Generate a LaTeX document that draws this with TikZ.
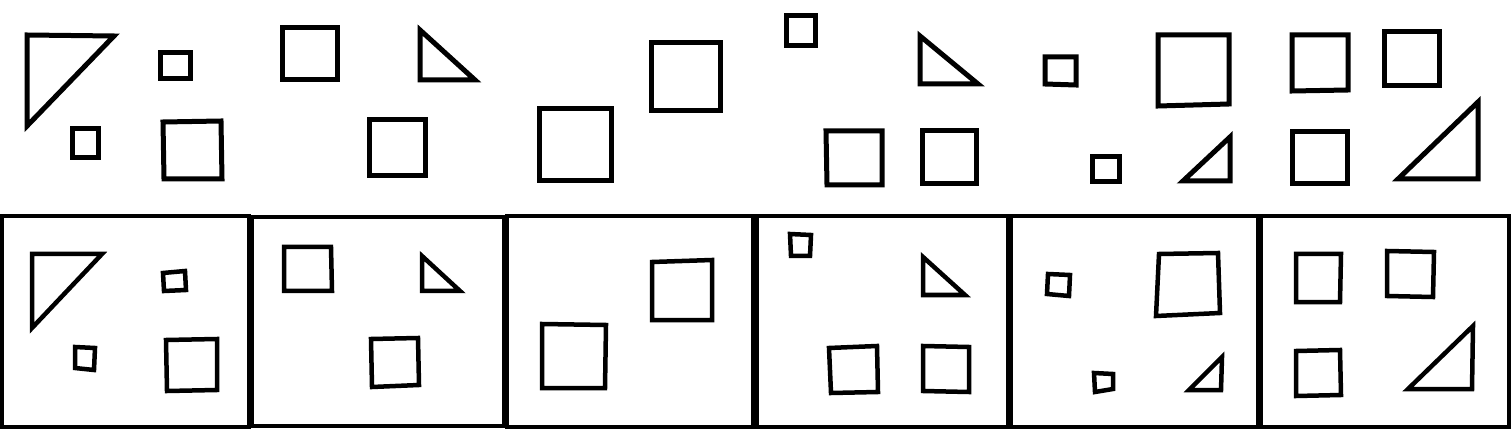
\documentclass[tikz,border=0pt]{standalone}
\usepackage{tikz}

\tikzset{
  toprow/.style={line width=5pt},
  optrow/.style={line width=4.5pt},
  optbox/.style={line width=3.5pt}
}

\begin{document}
\begin{tikzpicture}[x=1pt, y=-1pt]

    \useasboundingbox (0,0) rectangle (1512,430);

    % top row
    \draw[toprow] (27,35) -- (114,36) -- (27,126) -- cycle;
    \draw[toprow] (160,53) rectangle (190,79);
    \draw[toprow] (282,28) rectangle (337,80);
    \draw[toprow] (420,30) -- (420,80) -- (475,80) -- cycle;
    \draw[toprow] (72,129) rectangle (98,158);
    \draw[toprow] (163,122) -- (221,121) -- (222,179) -- (164,179) -- cycle;
    \draw[toprow] (369,120) rectangle (425,176);

    \draw[toprow] (539,109) -- (611,109) -- (611,181) -- (539,181) -- cycle;
    \draw[toprow] (651,43) rectangle (720,111);
    \draw[toprow] (786,16) rectangle (815,46);
    \draw[toprow] (920,36) -- (920,84) -- (978,84) -- cycle;
    \draw[toprow] (826,131) -- (882,131) -- (882,185) -- (827,185) -- cycle;
    \draw[toprow] (922,131) rectangle (976,184);

    \draw[toprow] (1045,57) -- (1076,57) -- (1076,85) -- (1045,84) -- cycle;
    \draw[toprow] (1158,35) -- (1229,35) -- (1229,104) -- (1158,106) -- cycle;
    \draw[toprow] (1292,35) -- (1348,35) -- (1348,90) -- (1292,91) -- cycle;
    \draw[toprow] (1384,32) rectangle (1439,86);
    \draw[toprow] (1092,157) -- (1119,157) -- (1119,182) -- (1092,182) -- cycle;
    \draw[toprow] (1183,181) -- (1230,181) -- (1230,137) -- cycle;
    \draw[toprow] (1292,132) rectangle (1347,184);
    \draw[toprow] (1398,179) -- (1478,179) -- (1478,102) -- cycle;

    % answer boxes
    \draw[optbox] (2,216) rectangle (249,427);
    \draw[optbox] (252,217) rectangle (504,426);
    \draw[optbox] (507,216) rectangle (753,427);
    \draw[optbox] (757,216) rectangle (1008,427);
    \draw[optbox] (1011,216) rectangle (1258,427);
    \draw[optbox] (1261,216) rectangle (1509,427);

    % box 1
    \draw[optrow] (32,254) -- (102,254) -- (32,328) -- cycle;
    \draw[optrow] (163,273) -- (185,271) -- (186,290) -- (164,291) -- cycle;
    \draw[optrow] (75,347) -- (95,348) -- (94,370) -- (75,368) -- cycle;
    \draw[optrow] (166,340) -- (217,339) -- (217,390) -- (167,391) -- cycle;

    % box 2
    \draw[optrow] (284,247) -- (331,247) -- (332,291) -- (284,291) -- cycle;
    \draw[optrow] (422,256) -- (422,291) -- (460,291) -- cycle;
    \draw[optrow] (371,339) -- (418,338) -- (419,385) -- (372,387) -- cycle;

    % box 3
    \draw[optrow] (542,324) -- (606,325) -- (605,388) -- (542,388) -- cycle;
    \draw[optrow] (652,262) -- (712,260) -- (712,320) -- (652,320) -- cycle;

    % box 4
    \draw[optrow] (790,234) -- (811,235) -- (810,256) -- (791,256) -- cycle;
    \draw[optrow] (923,257) -- (923,295) -- (965,295) -- cycle;
    \draw[optrow] (829,348) -- (877,346) -- (878,392) -- (831,393) -- cycle;
    \draw[optrow] (923,346) -- (969,347) -- (969,392) -- (923,391) -- cycle;

    % box 5
    \draw[optrow] (1048,274) -- (1070,275) -- (1069,296) -- (1047,294) -- cycle;
    \draw[optrow] (1159,254) -- (1218,253) -- (1220,313) -- (1156,316) -- cycle;
    \draw[optrow] (1094,373) -- (1113,374) -- (1113,389) -- (1095,392) -- cycle;
    \draw[optrow] (1189,390) -- (1221,390) -- (1222,357) -- cycle;

    % box 6
    \draw[optrow] (1296,254) -- (1341,254) -- (1340,302) -- (1296,302) -- cycle;
    \draw[optrow] (1387,251) -- (1434,252) -- (1433,297) -- (1387,296) -- cycle;
    \draw[optrow] (1296,351) -- (1340,350) -- (1341,395) -- (1296,396) -- cycle;
    \draw[optrow] (1408,389) -- (1472,389) -- (1473,326) -- cycle;

\end{tikzpicture}
\end{document}
